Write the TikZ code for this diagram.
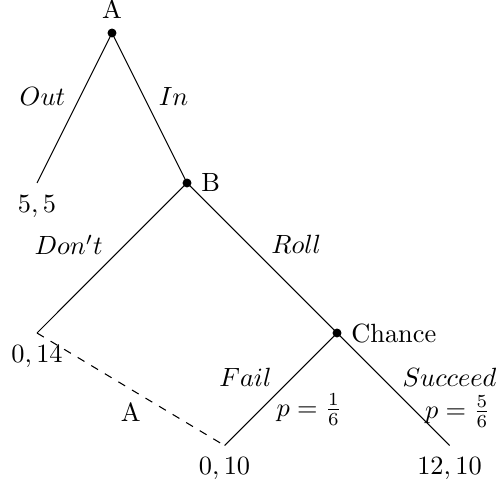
\documentclass[tikz,border=0pt]{standalone}
\usetikzlibrary{positioning}
\begin{document}
\begin{tikzpicture}[scale=1.0,
    dot/.style={circle,fill,inner sep=1.2pt},
    move/.style={font=\normalsize}]
  \useasboundingbox (-1.4933,-6.04) rectangle (5.12,0.44);
  % decision nodes
  \node[dot,label=above:A] (nA) at (0,0) {};
  \node[dot,label=right:B] (nB) at (1,-2) {};
  \node[dot,label=right:Chance] (nC) at (3,-4) {};
  % terminal points
  \coordinate (tOut) at (-1,-2);
  \coordinate (tDont) at (-1,-4);
  \coordinate (tFail) at (1.5,-5.5);
  \coordinate (tSucc) at (4.5,-5.5);
  % branches
  \draw (nA.center) -- node[move,left,yshift=4.2pt] (lOut) {$Out$} (tOut);
  \draw (nA.center) -- node[move,right,yshift=4.2pt] (lIn) {$In$} (nB.center);
  \draw (nB.center) -- node[move,left,yshift=5pt] (lDont) {$Don't$} (tDont);
  \draw (nB.center) -- node[move,right,yshift=5pt] (lRoll) {$Roll$} (nC.center);
  \draw (nC.center) -- node[move,left,yshift=4.5pt] (lFail) {$Fail$}
    node[pos=0.62,right,yshift=-2.6pt] (pFail) {$p=\frac{1}{6}$} (tFail);
  \draw (nC.center) -- node[move,right,yshift=4.5pt] (lSucc) {$Succeed$}
    node[pos=0.7,right] (pSucc) {$p=\frac{5}{6}$} (tSucc);
  % information set
  \draw[dashed] (tDont) -- node[below=1.5pt] (iA) {A} (tFail);
  % payoffs
  \node[below=1.2pt of tOut] (pOut) {$5,5$};
  \node[below=1.2pt of tDont] (pDont) {$0,14$};
  \node[below=1.2pt of tFail] (pF) {$0,10$};
  \node[below=1.2pt of tSucc] (pS) {$12,10$};
\end{tikzpicture}
\end{document}
